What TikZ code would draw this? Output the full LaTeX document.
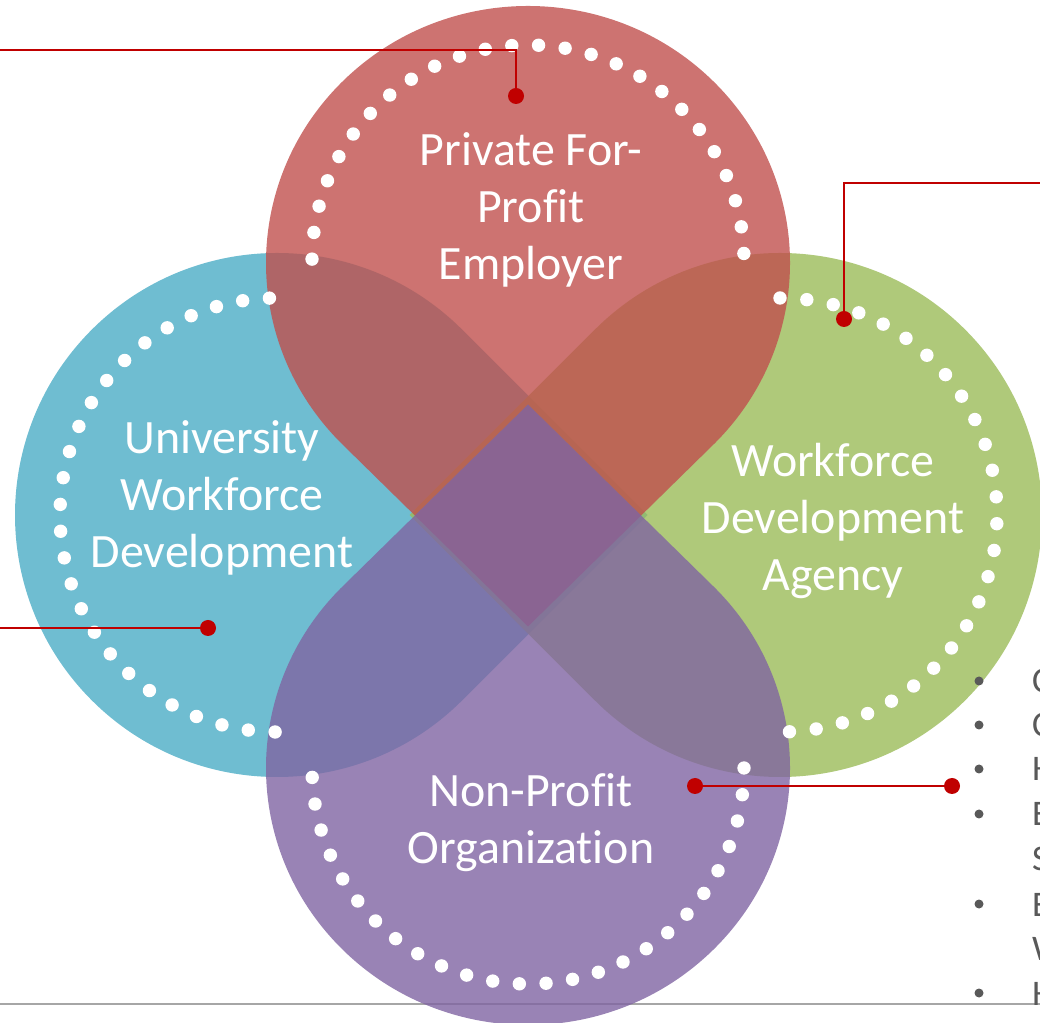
\documentclass[tikz,border=0pt]{standalone}
\usepackage{fontspec}
\setmainfont{Carlito}[Ligatures=NoCommon]
\usetikzlibrary{positioning}
\definecolor{cred}{HTML}{C0504D}
\definecolor{cblue}{HTML}{4BACC6}
\definecolor{cgreen}{HTML}{9BBB59}
\definecolor{cpurple}{HTML}{8064A2}
\definecolor{cdred}{HTML}{C00000}
\definecolor{cgray}{HTML}{595959}
\definecolor{clgray}{HTML}{A6A6A6}

\begin{document}
\begin{tikzpicture}[
    x=1pt, y=1pt,
    petal/.style={fill=#1, fill opacity=0.8},
    ringdot/.style={fill=white},
    petaltext/.style={text=white, font=\fontsize{47.9}{57}\selectfont, align=center, inner sep=0pt,
        execute at begin node=\strut, execute at end node=\strut},
    link/.style={draw=cdred, line width=2.7pt},
    pindot/.style={circle, fill=cdred, inner sep=0pt, minimum size=16pt},
    bulletdot/.style={circle, fill=cgray, inner sep=0pt, minimum size=9pt},
    listitem/.style={text=cgray, font=\fontsize{36}{44}\selectfont, anchor=base west, inner sep=0pt},
]
\useasboundingbox (0,0) rectangle (1040,1022);
\clip (0,0) rectangle (1040,1022);

% base rule
\draw[clgray, line width=2pt] (0,18) -- (1040,18);

% four teardrop petals pointing at the middle
\fill[petal=cblue, shift={(277,507)}] (45:262) arc[start angle=45, end angle=315, radius=262] -- (370.5,0) -- cycle;
\fill[petal=cgreen, shift={(780,507)}] (-135:262) arc[start angle=-135, end angle=135, radius=262] -- (-370.5,0) -- cycle;
\fill[petal=cred, shift={(528,759)}] (-45:262 and 257) arc[start angle=-45, end angle=225, x radius=262, y radius=257] -- (0,-363.5) -- cycle;
\fill[petal=cpurple, shift={(528,254)}] (135:262 and 257) arc[start angle=135, end angle=405, x radius=262, y radius=257] -- (0,363.5) -- cycle;

% dotted rings
\foreach \i in {0,...,25} {
    \fill[ringdot] (528,761) ++({2+7.1*\i}:216) circle (6.7);
    \fill[ringdot] (277,507) ++({92+7.1*\i}:217) circle (6.7);
    \fill[ringdot] (780,507) ++({90-7.1*\i}:217) circle (6.7);
    \fill[ringdot] (528,254) ++({182.5+7.1*\i}:216) circle (6.7);
}

% petal labels
\node[petaltext] (employer) at (531,807) {Private For-\\Profit\\Employer};
\node[petaltext] (university) at (222,519) {University\\Workforce\\Development};
\node[petaltext] (agency) at (833,497) {Workforce\\Development\\Agency};
\node[petaltext] (nonprofit) at (531,195) {Non-Profit\\Organization};

% callout connectors
\node[pindot] (d1) at (516,926) {};
\node[pindot] (d2) at (844,703) {};
\node[pindot] (d3) at (208,394) {};
\node[pindot] (d4) at (695,236) {};
\node[pindot] (d5) at (952,236) {};
\coordinate (e1) at (0,972);
\coordinate (e2) at (1040,839);
\coordinate (e3) at (0,394);

\draw[link] (e1) -| (d1.center);
\draw[link] (e2) -| (d2.center);
\draw[link] (e3) -- (d3.center);
\draw[link] (d4.center) -- (d5.center);

% bullet list on the right
\foreach \y [count=\n] in {341,297,253,208,118,29}
    \node[bulletdot] (b\n) at (979,\y) {};
\foreach \y/\t [count=\n] in {329/C,285/C,241/H,196/E,152/S,106/E,62/W,17/H}
    \node[listitem] (t\n) at (1032,\y) {\t};

\end{tikzpicture}
\end{document}
